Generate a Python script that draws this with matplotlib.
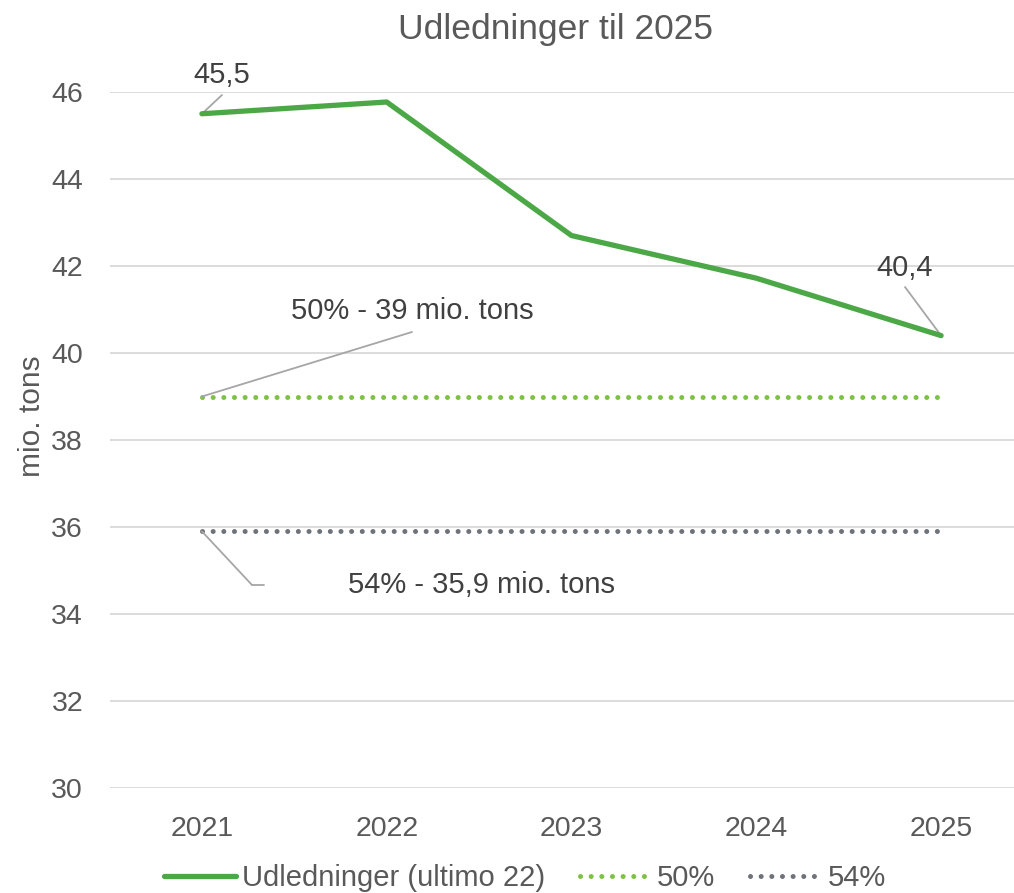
import matplotlib
matplotlib.use("Agg")
import matplotlib.pyplot as plt

plt.rcParams['font.family'] = ['Liberation Sans', 'DejaVu Sans']

years = ["2021", "2022", "2023", "2024", "2025"]
udledninger = [45.5, 45.77, 42.7, 41.72, 40.4]
target_50 = [39.0, 39.0, 39.0, 39.0, 39.0]
target_54 = [35.9, 35.9, 35.9, 35.9, 35.9]
yticks = [30, 32, 34, 36, 38, 40, 42, 44, 46]

W, H = 1014, 893
fig = plt.figure(figsize=(W / 100, H / 100), dpi=100)
TXT = '#595959'

left, right = 109.5, 1033.5
top, bottom = 92, 788
ax = fig.add_axes([left / W, 1 - bottom / H, (right - left) / W, (bottom - top) / H])

x = list(range(len(years)))
l1, = ax.plot(x, udledninger, color='#4CA846', lw=3.8, solid_capstyle='round',
              solid_joinstyle='round', label='Udledninger (ultimo 22)', zorder=4)
l2, = ax.plot(x, target_50, color='#7DC242', lw=3.6, linestyle=(0, (0.01, 2.12)),
              dash_capstyle='round', label='50%', zorder=3)
l3, = ax.plot(x, target_54, color='#6E737A', lw=3.6, linestyle=(0, (0.01, 2.12)),
              dash_capstyle='round', label='54%', zorder=3)

ax.set_xlim(-0.5, 4.5)
ax.set_ylim(30, 46)
ax.set_yticks(yticks)
ax.set_yticklabels([str(v) for v in yticks])
ax.set_xticks(x)
ax.set_xticklabels(years)
ax.grid(axis='y', color='#D9D9D9', lw=1.3)
ax.set_axisbelow(True)
for s in ax.spines.values():
    s.set_visible(False)
ax.tick_params(axis='both', length=0, labelsize=20.5, colors=TXT)
ax.tick_params(axis='y', pad=19)
ax.tick_params(axis='x', pad=20)

fig.text(32 / W, 1 - 416 / H, 'mio. tons', rotation=90, ha='center', va='center',
         fontsize=21.5, color=TXT)
fig.text(555 / W, 1 - 30 / H, 'Udledninger til 2025', ha='center', va='center',
         fontsize=25.5, color=TXT)

lead = dict(arrowstyle='-', color='#A6A6A6', lw=1.3, shrinkA=0, shrinkB=0)

def fp(px, py):
    return (px, H - py)

ax.annotate('45,5', xy=(0, udledninger[0]), xytext=fp(222, 75), textcoords='figure pixels',
            ha='center', va='center', fontsize=21, color='#404040')
ax.annotate('', xy=(0, udledninger[0]), xytext=fp(222, 95), textcoords='figure pixels',
            arrowprops=lead)
ax.annotate('40,4', xy=(4, udledninger[4]), xytext=fp(905, 268), textcoords='figure pixels',
            ha='center', va='center', fontsize=21, color='#404040')
ax.annotate('', xy=(4, udledninger[4]), xytext=fp(905, 287), textcoords='figure pixels',
            arrowprops=lead)
ax.annotate('50% - 39 mio. tons', xy=(0, target_50[0]), xytext=fp(412, 311),
            textcoords='figure pixels', ha='center', va='center', fontsize=21, color='#404040')
ax.annotate('', xy=(0, target_50[0]), xytext=fp(412, 332), textcoords='figure pixels',
            arrowprops=lead)
ax.annotate('54% - 35,9 mio. tons', xy=(0, target_54[0]), xytext=fp(481, 585),
            textcoords='figure pixels', ha='center', va='center', fontsize=21, color='#404040')
ax.annotate('', xy=(0, target_54[0]), xytext=fp(252, 585), textcoords='figure pixels',
            arrowprops=lead)
ax.annotate('', xy=fp(252, 585), xytext=fp(264, 585), xycoords='figure pixels',
            textcoords='figure pixels', arrowprops=lead)

leg = fig.legend(handles=[l1, l2, l3], loc='center', bbox_to_anchor=(525 / W, 1 - 878 / H),
                 ncol=3, frameon=False, fontsize=21, handlelength=2.45, handletextpad=0.2,
                 columnspacing=1.2, labelcolor=TXT)

fig.savefig('out.png', dpi=100)
